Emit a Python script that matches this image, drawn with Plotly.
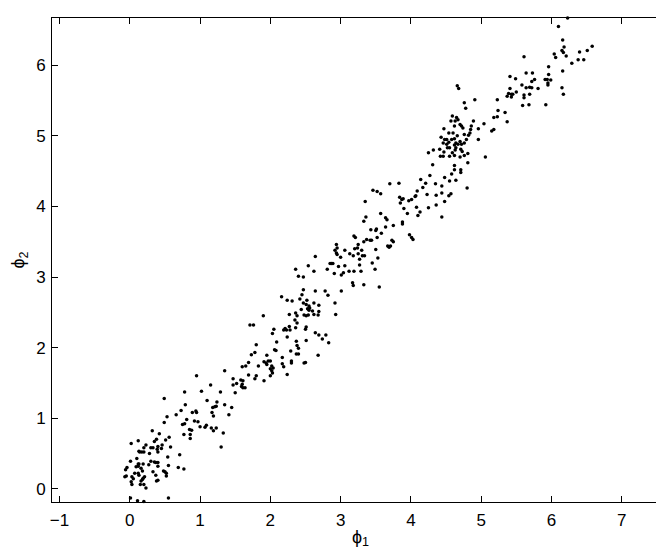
import plotly.graph_objects as go

# (phi1, phi2) samples, grouped along the band
low_cluster = [
    (0.78, 1.37), (0.49, 1.28), (0.79, 1.19), (0.73, 1.11), (0.89, 1.08), (0.94, 1.10), (0.95, 1.08),
    (0.66, 1.05), (0.53, 1.02), (0.81, 0.98), (0.78, 0.92), (0.75, 0.91), (0.49, 0.94), (0.92, 0.96),
    (0.85, 0.84), (0.88, 0.83), (0.32, 0.82), (0.77, 0.77), (0.86, 0.77), (0.42, 0.78), (0.56, 0.73),
    (0.86, 0.71), (0.38, 0.70), (0.51, 0.69), (0.12, 0.68), (0.35, 0.67), (0.02, 0.64), (0.23, 0.62),
    (0.46, 0.62), (0.58, 0.59), (0.30, 0.58), (0.33, 0.58), (0.20, 0.58), (0.40, 0.60), (0.39, 0.56),
    (0.45, 0.57), (0.13, 0.53), (0.14, 0.52), (0.17, 0.52), (0.20, 0.52), (0.28, 0.50), (0.40, 0.52),
    (0.71, 0.48), (0.10, 0.43), (0.54, 0.45), (0.01, 0.39), (0.30, 0.39), (0.35, 0.38), (0.37, 0.37),
    (0.40, 0.37), (0.12, 0.35), (0.13, 0.35), (0.19, 0.35), (0.55, 0.33), (0.27, 0.34), (0.40, 0.32),
    (-0.04, 0.30), (-0.06, 0.27), (0.09, 0.31), (0.12, 0.32), (0.16, 0.29), (0.69, 0.30), (0.77, 0.28),
    (0.18, 0.25), (0.48, 0.25), (0.50, 0.24), (0.52, 0.22), (0.33, 0.24), (0.07, 0.22), (0.12, 0.22),
    (0.13, 0.19), (0.52, 0.18), (-0.05, 0.18), (-0.07, 0.17), (0.21, 0.17), (0.19, 0.15), (0.03, 0.17),
    (0.05, 0.14), (0.37, 0.19), (0.38, 0.11), (0.40, 0.12), (0.16, 0.11), (0.18, 0.13), (0.02, 0.10),
    (0.03, 0.06), (0.20, 0.06), (0.15, 0.06), (0.23, 0.01), (0.01, -0.13), (0.11, -0.17), (0.20, -0.18),
    (0.55, -0.13), (0.95, 1.60),
]
band_1_2 = [
    (1.90, 2.45), (1.71, 2.32), (1.76, 2.32), (2.05, 2.26), (2.03, 2.20), (2.09, 2.08), (1.80, 2.04),
    (2.06, 1.97), (2.08, 1.96), (1.78, 1.93), (1.73, 1.90), (1.95, 1.89), (1.91, 1.80), (1.94, 1.78),
    (1.97, 1.81), (2.00, 1.81), (1.95, 1.76), (1.69, 1.79), (2.02, 1.74), (2.04, 1.71), (2.00, 1.70),
    (2.02, 1.67), (1.65, 1.74), (1.60, 1.73), (1.83, 1.74), (1.35, 1.67), (2.03, 1.64), (1.69, 1.61),
    (1.80, 1.60), (1.78, 1.56), (2.00, 1.60), (1.47, 1.56), (1.58, 1.54), (1.61, 1.53), (1.52, 1.49),
    (1.47, 1.47), (1.91, 1.53), (1.60, 1.48), (1.59, 1.45), (1.61, 1.43), (1.64, 1.43), (1.15, 1.47),
    (1.02, 1.38), (1.29, 1.37), (1.50, 1.36), (1.10, 1.25), (1.24, 1.23), (1.21, 1.16), (1.23, 1.17),
    (1.35, 1.19), (1.18, 1.15), (1.45, 1.15), (1.17, 1.08), (1.19, 1.03), (1.41, 1.05), (0.97, 0.95),
    (1.00, 0.88), (1.07, 0.87), (1.09, 0.90), (1.16, 0.86), (1.23, 0.86), (1.19, 0.82), (1.33, 0.79),
    (1.30, 0.59),
]
band_2_3 = [
    (3.19, 3.58), (3.21, 3.56), (2.94, 3.46), (2.95, 3.41), (2.92, 3.38), (2.94, 3.34), (2.95, 3.32),
    (3.06, 3.38), (3.20, 3.40), (3.24, 3.41), (3.13, 3.33), (3.18, 3.30), (2.64, 3.29), (3.00, 3.28),
    (2.85, 3.19), (2.87, 3.19), (2.89, 3.19), (2.97, 3.15), (2.54, 3.16), (3.06, 3.16), (2.36, 3.11),
    (2.62, 3.08), (2.81, 3.11), (3.12, 3.08), (3.19, 3.08), (2.91, 3.05), (3.04, 3.06), (3.01, 3.03),
    (2.40, 3.01), (2.47, 3.00), (3.17, 2.92), (3.18, 2.88), (2.47, 2.82), (2.45, 2.75), (2.64, 2.80),
    (2.78, 2.80), (2.82, 2.74), (3.01, 2.80), (2.16, 2.72), (2.24, 2.67), (2.31, 2.66), (2.42, 2.69),
    (2.52, 2.67), (2.47, 2.63), (2.51, 2.61), (2.55, 2.59), (2.62, 2.63), (2.69, 2.60), (2.92, 2.63),
    (2.44, 2.54), (2.53, 2.55), (2.56, 2.56), (2.55, 2.53), (2.60, 2.52), (2.69, 2.51), (2.36, 2.49),
    (2.38, 2.45), (2.48, 2.46), (2.51, 2.45), (2.54, 2.46), (2.62, 2.47), (2.68, 2.46), (2.93, 2.47),
    (2.27, 2.47), (2.35, 2.39), (2.38, 2.35), (2.27, 2.30), (2.21, 2.27), (2.19, 2.25), (2.23, 2.25),
    (2.28, 2.25), (2.51, 2.29), (2.50, 2.26), (2.36, 2.28), (2.64, 2.21), (2.69, 2.18), (2.79, 2.18),
    (2.74, 2.12), (2.24, 2.15), (2.37, 2.09), (2.51, 2.10), (2.83, 2.07), (2.38, 2.03), (2.40, 1.99),
    (2.29, 1.95), (2.37, 1.91), (2.40, 1.91), (2.68, 1.89), (2.17, 1.86), (2.30, 1.81), (2.30, 1.78),
    (2.17, 1.77), (2.19, 1.73), (2.50, 1.79), (2.48, 1.78), (2.24, 1.62), (3.33, 2.89), (3.55, 2.86),
]
band_3_4 = [
    (4.25, 4.76), (4.32, 4.80), (4.31, 4.59), (4.27, 4.44), (4.14, 4.38), (3.70, 4.32), (3.83, 4.33),
    (4.21, 4.33), (4.17, 4.27), (4.09, 4.22), (4.07, 4.15), (4.06, 4.14), (3.46, 4.23), (3.52, 4.21),
    (3.57, 4.18), (3.84, 4.13), (3.87, 4.10), (3.89, 4.11), (3.97, 4.08), (4.01, 4.10), (3.85, 4.05),
    (3.35, 4.07), (4.23, 4.17), (3.90, 3.97), (4.08, 3.99), (4.13, 3.92), (4.10, 3.87), (3.95, 3.90),
    (4.25, 3.98), (3.57, 3.90), (3.64, 3.84), (3.66, 3.81), (3.36, 3.85), (3.33, 3.79), (3.88, 3.78),
    (3.88, 3.75), (3.75, 3.73), (3.64, 3.71), (3.51, 3.68), (3.50, 3.66), (3.43, 3.67), (3.58, 3.62),
    (3.98, 3.60), (4.01, 3.56), (4.03, 3.53), (3.52, 3.56), (3.37, 3.53), (3.42, 3.52), (3.44, 3.52),
    (3.73, 3.52), (3.75, 3.50), (3.33, 3.50), (3.25, 3.46), (3.67, 3.44), (3.69, 3.42), (3.71, 3.44),
    (3.50, 3.39), (3.30, 3.38), (3.25, 3.33), (3.31, 3.30), (3.34, 3.30), (3.53, 3.27), (3.27, 3.25),
    (3.45, 3.20), (3.27, 3.17), (3.49, 3.11), (3.29, 3.08),
]
band_4_5 = [
    (5.41, 5.84), (4.66, 5.71), (4.68, 5.67), (5.41, 5.67), (5.39, 5.60), (5.43, 5.59), (5.37, 5.56),
    (5.43, 5.55), (4.76, 5.47), (4.78, 5.39), (4.91, 5.51), (5.23, 5.51), (5.24, 5.36), (5.34, 5.33),
    (5.18, 5.26), (5.23, 5.27), (5.37, 5.20), (4.59, 5.28), (4.65, 5.26), (4.67, 5.23), (4.63, 5.21),
    (4.57, 5.21), (4.70, 5.16), (4.72, 5.14), (4.62, 5.14), (4.74, 5.11), (4.89, 5.21), (4.86, 5.14),
    (4.85, 5.09), (5.04, 5.17), (4.96, 5.10), (4.84, 5.04), (5.15, 5.07), (5.18, 5.09), (4.47, 5.10),
    (4.54, 5.04), (4.60, 5.04), (4.76, 5.02), (4.66, 5.00), (4.82, 5.01), (4.43, 4.98), (4.58, 4.95),
    (4.62, 4.96), (4.48, 4.95), (4.51, 4.95), (4.70, 4.92), (4.96, 4.95), (4.79, 4.95), (4.54, 4.91),
    (4.46, 4.90), (4.64, 4.90), (4.62, 4.87), (4.67, 4.88), (4.76, 4.90), (4.72, 4.88), (4.51, 4.88),
    (4.52, 4.83), (4.41, 4.81), (4.55, 4.83), (4.64, 4.83), (4.63, 4.80), (4.71, 4.81), (4.73, 4.78),
    (4.81, 4.75), (4.47, 4.77), (4.59, 4.76), (4.42, 4.71), (4.46, 4.71), (4.62, 4.72), (4.55, 4.71),
    (4.70, 4.70), (4.76, 4.72), (5.06, 4.70), (4.81, 4.62), (4.62, 4.58), (4.71, 4.52), (4.71, 4.48),
    (4.62, 4.52), (4.58, 4.46), (4.48, 4.41), (4.64, 4.37), (4.55, 4.36), (4.35, 4.32), (4.44, 4.29),
    (4.80, 4.26), (4.44, 4.19), (4.57, 4.18), (4.54, 4.15), (4.36, 4.16), (4.48, 4.07), (4.36, 4.02),
    (4.44, 3.85), (5.45, 5.59),
]
high_cluster = [
    (6.23, 6.67), (6.10, 6.55), (6.16, 6.36), (6.15, 6.21), (6.18, 6.26), (6.17, 6.18), (6.21, 6.13),
    (6.04, 6.16), (6.06, 6.11), (5.61, 6.12), (6.40, 6.19), (6.51, 6.21), (6.58, 6.27), (6.38, 6.08),
    (6.46, 6.08), (6.29, 6.03), (5.96, 5.98), (6.16, 5.92), (5.49, 5.81), (5.64, 5.89), (5.73, 5.89),
    (5.76, 5.80), (5.72, 5.77), (5.58, 5.72), (5.91, 5.80), (5.94, 5.80), (5.99, 5.79), (5.96, 5.87),
    (5.95, 5.75), (5.95, 5.72), (5.64, 5.68), (5.69, 5.69), (5.72, 5.68), (5.81, 5.67), (5.50, 5.62),
    (6.15, 5.68), (6.17, 5.59), (5.61, 5.58), (5.61, 5.54), (5.69, 5.59), (5.59, 5.43), (5.68, 5.44),
    (5.92, 5.44),
]

x_ticks = [-1, 0, 1, 2, 3, 4, 5, 6, 7]
y_ticks = [0, 1, 2, 3, 4, 5, 6]

pts = low_cluster + band_1_2 + band_2_3 + band_3_4 + band_4_5 + high_cluster
phi1 = [p[0] for p in pts]
phi2 = [p[1] for p in pts]

FONT = "Liberation Sans, Arial, Helvetica, sans-serif"

fig = go.Figure(go.Scatter(
    x=phi1, y=phi2, mode="markers", cliponaxis=False,
    marker=dict(color="black", size=3.5, line=dict(width=0)),
    showlegend=False,
))

axis = dict(showgrid=False, zeroline=False, showline=True, linecolor="black", linewidth=1,
            mirror="allticks", ticks="inside", ticklen=6, tickcolor="black", tickwidth=1,
            tickfont=dict(family=FONT, size=17, color="black"))

fig.update_xaxes(axis, range=[-1.107, 7.673], tickvals=x_ticks, ticklabelstandoff=3,
                 title=dict(text="ϕ<sub>1</sub>", font=dict(family=FONT, size=18, color="black"),
                            standoff=0))
fig.update_yaxes(axis, range=[-0.188, 6.67], tickvals=y_ticks, ticklabelstandoff=2,
                 title=dict(text="ϕ<sub>2</sub>", font=dict(family=FONT, size=18, color="black"),
                            standoff=9))

fig.update_layout(
    width=664, height=550,
    paper_bgcolor="white", plot_bgcolor="white",
    margin=dict(l=44, r=3, t=10, b=56),
    font=dict(family=FONT, color="black"),
)

fig.write_html("out.html")
